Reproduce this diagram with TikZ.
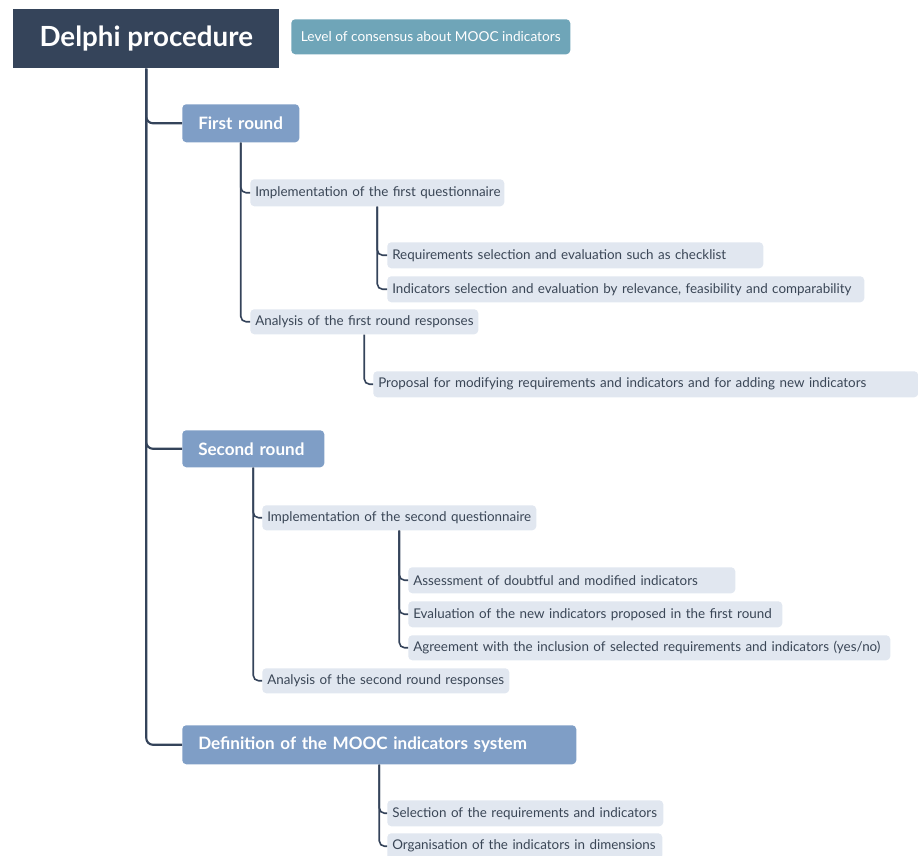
\documentclass[tikz,border=0pt]{standalone}
\usepackage{fontspec}
\setmainfont{Lato}
\definecolor{rootc}{HTML}{35445A}
\definecolor{labc}{HTML}{6FA5B8}
\definecolor{lvc}{HTML}{7F9EC6}
\definecolor{leafc}{HTML}{E1E7F0}
\definecolor{txtc}{HTML}{3A4656}
\definecolor{linec}{HTML}{34435A}
\begin{document}
\begin{tikzpicture}[x=0.75pt,y=-0.75pt,
  rootbox/.style={anchor=north west,fill=rootc,text=white,font=\fontsize{20.8}{23}\selectfont\bfseries,inner sep=0pt,minimum width=199.5pt,minimum height=44.25pt},
  labbox/.style={anchor=north west,fill=labc,text=white,font=\fontsize{10.25}{12}\selectfont,rounded corners=3pt,inner sep=0pt,minimum width=209.25pt,minimum height=26.25pt},
  lvbox/.style={anchor=north west,fill=lvc,text=white,font=\fontsize{12.8}{14}\selectfont\bfseries,rounded corners=3pt,inner xsep=12pt,inner ysep=0pt,align=left},
  leaf/.style={anchor=north west,fill=leafc,text=txtc,font=\fontsize{10.05}{12}\selectfont,rounded corners=3pt,inner xsep=3.75pt,inner ysep=0pt,align=left},
  trunk/.style={draw=linec,line width=1.6pt,rounded corners=5pt},
  conn/.style={draw=linec,line width=1.2pt,rounded corners=4pt}]
\useasboundingbox (0,0) rectangle (918,856);
\node[rootbox] (root) at (13,9) {Delphi procedure};
\node[labbox] (lab) at (291,19) {Level of consensus about MOOC indicators};

\node[lvbox,minimum height=28.5pt,text width=63.75pt] (first) at (182,104) {\mbox{First round}};
\node[lvbox,minimum height=27.75pt,text width=82.5pt] (second) at (182,430) {\mbox{Second round}};
\node[lvbox,minimum height=29.25pt,text width=271.5pt] (def) at (182,725) {\mbox{Definition of the MOOC indicators system}};

\node[leaf,minimum height=20.25pt,text width=183pt] (impl1) at (250,179) {\mbox{Implementation of the first questionnaire}};
\node[leaf,minimum height=18.75pt,text width=163.5pt] (ana1) at (250,309) {\mbox{Analysis of the first round responses}};
\node[leaf,minimum height=19.5pt,text width=274.5pt] (req) at (387,242) {\mbox{Requirements selection and evaluation such as checklist}};
\node[leaf,minimum height=19.5pt,text width=350.25pt] (ind) at (387,276) {\mbox{Indicators selection and evaluation by relevance, feasibility and comparability}};
\node[leaf,minimum height=19.5pt,text width=401.25pt] (prop) at (373,371) {\mbox{Proposal for modifying requirements and indicators and for adding new indicators}};

\node[leaf,minimum height=18.75pt,text width=198pt] (impl2) at (262,505) {\mbox{Implementation of the second questionnaire}};
\node[leaf,minimum height=18.75pt,text width=177.75pt] (ana2) at (262,668) {\mbox{Analysis of the second round responses}};
\node[leaf,minimum height=19.5pt,text width=237.75pt] (ass) at (408,567) {\mbox{Assessment of doubtful and modified indicators}};
\node[leaf,minimum height=19.5pt,text width=273pt] (eval) at (408,601) {\mbox{Evaluation of the new indicators proposed in the first round}};
\node[leaf,minimum height=18.75pt,text width=354pt] (agr) at (408,635) {\mbox{Agreement with the inclusion of selected requirements and indicators (yes/no)}};

\node[leaf,minimum height=19.5pt,text width=199.5pt] (sel) at (387,800) {\mbox{Selection of the requirements and indicators}};
\node[leaf,minimum height=19.5pt,text width=198.75pt] (org) at (387,833) {\mbox{Organisation of the indicators in dimensions}};

\draw[trunk] (root.south) |- (first.west);
\draw[trunk] (root.south) |- (second.west);
\draw[trunk] (root.south) |- (def.west);

\draw[conn] (first.south) |- (impl1.west);
\draw[conn] (first.south) |- (ana1.west);
\draw[conn] (impl1.south) |- (req.west);
\draw[conn] (impl1.south) |- (ind.west);
\draw[conn] (ana1.south) |- (prop.west);

\draw[conn] (second.south) |- (impl2.west);
\draw[conn] (second.south) |- (ana2.west);
\draw[conn] (impl2.south) |- (ass.west);
\draw[conn] (impl2.south) |- (eval.west);
\draw[conn] (impl2.south) |- (agr.west);

\draw[conn] (def.south) |- (sel.west);
\draw[conn] (def.south) |- (org.west);
\end{tikzpicture}
\end{document}
